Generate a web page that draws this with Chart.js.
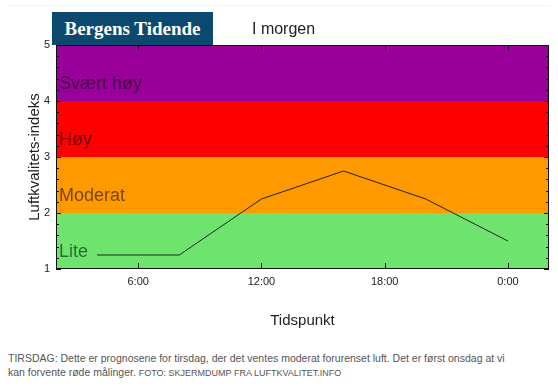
<!DOCTYPE html>
<html>
<head>
<meta charset="utf-8">
<script src="https://cdn.jsdelivr.net/npm/chart.js@4"></script>
<style>
    body { margin: 0; background: #fff; font-family: "Liberation Sans", Arial, sans-serif; }
    #wrap { position: relative; width: 558px; height: 340px; }
    #topline { position: absolute; left: 8px; top: 5px; width: 542px; height: 1px; background: #f2f2f2; }
    #logo {
        position: absolute; left: 52px; top: 12px; width: 161px; height: 33px;
        background: #0b4a6e; color: #fff; text-align: center;
        font: bold 19px "Liberation Serif", "DejaVu Serif", serif; line-height: 33px;
    }
    #title { position: absolute; left: 252px; top: 20px; font-size: 16px; color: #222; }
    #caption { padding: 11px 8px 0 8px; font-size: 10.5px; line-height: 14px; color: #555; white-space: nowrap; }
    #caption small { font-size: 9px; }
</style>
</head>
<body>
<div id="wrap">
    <canvas id="airChart"></canvas>
    <div id="topline"></div>
    <div id="logo">Bergens Tidende</div>
    <div id="title">I morgen</div>
</div>
<div id="caption">TIRSDAG: Dette er prognosene for tirsdag, der det ventes moderat forurenset luft. Det er først onsdag at vi<br>kan forvente røde målinger. <small>FOTO: SKJERMDUMP FRA LUFTKVALITET.INFO</small></div>
<script>
// forecast, hours from midnight
const hours = [4, 8, 12, 16, 20, 24];
const indexValues = [1.25, 1.25, 2.25, 2.75, 2.25, 1.5];

const xTicks = [6, 12, 18, 24];
const xTickLabels = ['6:00', '12:00', '18:00', '0:00'];
const yTicks = [1, 2, 3, 4, 5];

const bandFrom = [1, 2, 3, 4];
const bandTo = [2, 3, 4, 5];
const bandLabels = ['Lite', 'Moderat', 'Høy', 'Svært høy'];
const bandColors = ['#6ee46e', '#ff9900', '#ff0000', '#990099'];

// colour bands, labels, frame and inward ticks
const bandsPlugin = {
    id: 'bands',
    beforeDatasetsDraw(chart) {
        const { ctx, chartArea: a, scales: { y } } = chart;
        ctx.save();
        bandFrom.forEach((from, i) => {
            const top = y.getPixelForValue(bandTo[i]);
            const bottom = y.getPixelForValue(from);
            ctx.fillStyle = bandColors[i];
            ctx.fillRect(a.left, top, a.right - a.left, bottom - top);
        });
        ctx.fillStyle = 'rgba(0,0,0,0.55)';
        ctx.font = '18px "Liberation Sans", Arial, sans-serif';
        ctx.textBaseline = 'middle';
        bandFrom.forEach((from, i) => {
            ctx.fillText(bandLabels[i], a.left + 3, y.getPixelForValue(from + 0.3));
        });
        ctx.restore();
    },
    afterDatasetsDraw(chart) {
        const { ctx, chartArea: a, scales: { x, y } } = chart;
        ctx.save();
        ctx.strokeStyle = '#111';
        ctx.lineWidth = 1;
        ctx.strokeRect(a.left + 0.5, a.top + 0.5, a.right - a.left - 1, a.bottom - a.top - 1);
        ctx.beginPath();
        xTicks.forEach(v => {
            const px = Math.round(x.getPixelForValue(v)) + 0.5;
            ctx.moveTo(px, a.bottom); ctx.lineTo(px, a.bottom - 6);
            ctx.moveTo(px, a.top); ctx.lineTo(px, a.top + 5);
        });
        for (let v = yTicks[0]; v <= yTicks[yTicks.length - 1] + 0.001; v += 0.2) {
            const py = Math.round(y.getPixelForValue(v)) + 0.5;
            const major = Math.abs(v - Math.round(v)) < 0.01;
            const len = major ? 5 : 3;
            ctx.moveTo(a.left, py); ctx.lineTo(a.left + len, py);
            ctx.moveTo(a.right, py); ctx.lineTo(a.right - len, py);
        }
        ctx.stroke();
        ctx.restore();
    }
};

const ctx = document.getElementById('airChart').getContext('2d');
new Chart(ctx, {
    type: 'line',
    data: {
        datasets: [{
            data: hours.map((h, i) => ({ x: h, y: indexValues[i] })),
            borderColor: '#222',
            borderWidth: 1,
            pointRadius: 0,
            tension: 0,
            fill: false
        }]
    },
    options: {
        responsive: true,
        maintainAspectRatio: false,
        animation: false,
        layout: { padding: { top: 45, right: 9, left: 0, bottom: 0 } },
        plugins: {
            legend: { display: false },
            tooltip: { enabled: false }
        },
        scales: {
            x: {
                type: 'linear',
                min: 2,
                max: 26,
                grid: { display: false, drawTicks: false },
                border: { display: false },
                afterBuildTicks: s => { s.ticks = xTicks.map(v => ({ value: v })); },
                afterFit: s => { s.height = 71; },
                ticks: {
                    autoSkip: false,
                    padding: 6,
                    color: '#222',
                    font: { size: 11, family: '"Liberation Sans", Arial, sans-serif' },
                    callback: v => xTickLabels[xTicks.indexOf(v)]
                },
                title: {
                    display: true,
                    text: 'Tidspunkt',
                    color: '#222',
                    font: { size: 15, family: '"Liberation Sans", Arial, sans-serif' },
                    padding: { top: 0, bottom: 10 }
                }
            },
            y: {
                min: 1,
                max: 5,
                grid: { display: false, drawTicks: false },
                border: { display: false },
                afterBuildTicks: s => { s.ticks = yTicks.map(v => ({ value: v })); },
                afterFit: s => { s.width = 56; },
                ticks: {
                    autoSkip: false,
                    padding: 6,
                    color: '#222',
                    font: { size: 11, family: '"Liberation Sans", Arial, sans-serif' }
                },
                title: {
                    display: true,
                    text: 'Luftkvalitets-indeks',
                    color: '#222',
                    font: { size: 15, family: '"Liberation Sans", Arial, sans-serif' },
                    padding: { top: 26, bottom: 0 }
                }
            }
        }
    },
    plugins: [bandsPlugin]
});
</script>
</body>
</html>
